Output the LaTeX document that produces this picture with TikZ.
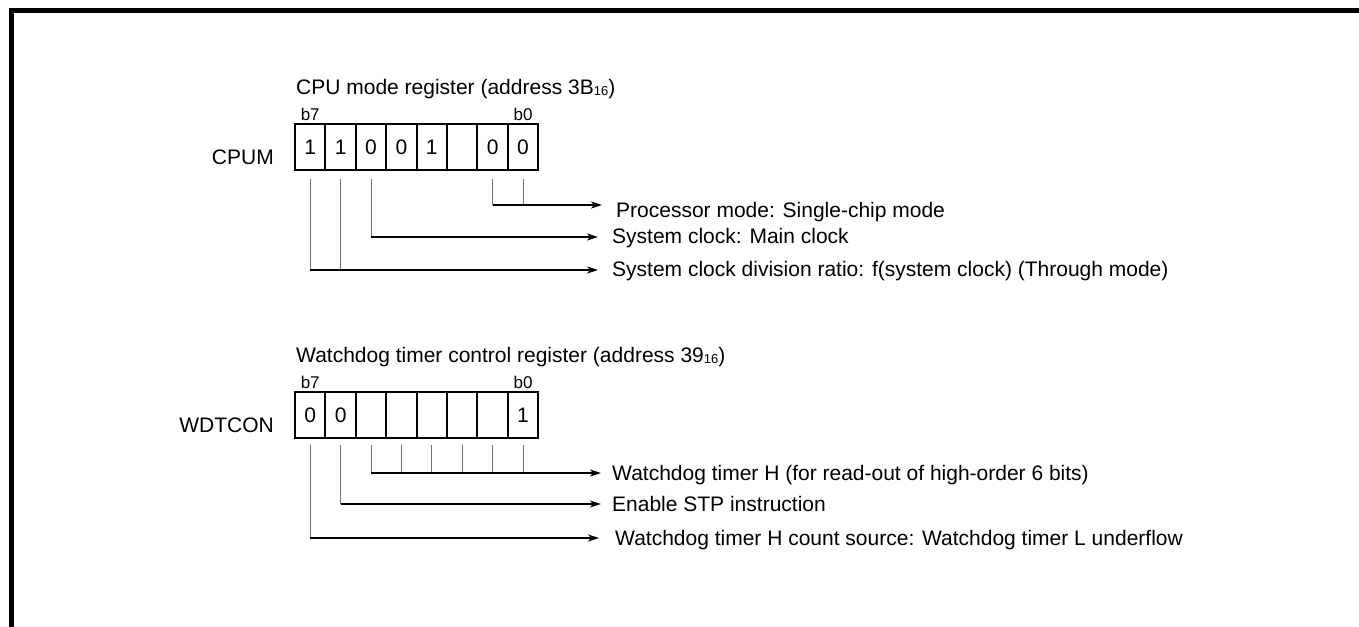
\documentclass[tikz,border=0pt]{standalone}
\usepackage{fontspec}
\setmainfont{Liberation Sans}
\usetikzlibrary{arrows.meta,positioning}
\newcommand\regsub[1]{\raisebox{-1pt}{\fontsize{13}{13}\selectfont #1}}
\tikzset{
  bitcell/.style={draw, line width=2pt, minimum width=30.4pt, minimum height=46pt,
    inner sep=0pt, font=\fontsize{21}{21}\selectfont},
  bitno/.style={anchor=base, inner sep=0pt, font=\fontsize{17}{17}\selectfont},
  regname/.style={anchor=east, inner sep=0pt, font=\fontsize{21}{21}\selectfont},
  regtitle/.style={anchor=west, inner sep=0pt, font=\fontsize{21}{21}\selectfont},
  desc/.style={anchor=west, inner sep=0pt, text height=15pt, text depth=4pt,
    font=\fontsize{21}{21}\selectfont},
  lead/.style={line width=0.9pt, black!55},
  feed/.style={line width=1.1pt, -{Stealth[length=11pt,width=7pt,inset=3pt]}},
}
\begin{document}
\begin{tikzpicture}[x=1pt,y=-1pt]
  \useasboundingbox (0,0) rectangle (1359,626);
  % frame
  \draw[line width=5pt] (1380,10.5) -- (11.5,10.5) -- (11.5,650);

  % CPU mode register
  \node[regtitle] (cputitle) at (296,89) {CPU mode register (address 3B\regsub{16})};
  \foreach \b/\v in {7/1,6/1,5/0,4/0,3/1,2/{},1/0,0/0}
    \node[bitcell] (cpum\b) at ({310.2+30.4*(7-\b)},147) {\v};
  \node[bitno] at ([yshift=3pt]cpum7.north) {b7};
  \node[bitno] at ([yshift=3pt]cpum0.north) {b0};
  \node[regname, left=20pt of cpum7.west, yshift=-10pt] (cpumname) {CPUM};
  \coordinate (cpa) at (602,205);
  \coordinate (cpb) at (598,237);
  \coordinate (cpc) at (598,270);
  \foreach \b/\e in {1/cpa,0/cpa,5/cpb,7/cpc,6/cpc}
    \draw[lead] ([yshift=-8pt]cpum\b.south) -- (cpum\b.south |- \e);
  \draw[feed] (cpum1.south |- cpa) -- (cpa);
  \draw[feed] (cpum5.south |- cpb) -- (cpb);
  \draw[feed] (cpum7.south |- cpc) -- (cpc);
  \node[desc, right=14pt of cpa, yshift=-7pt] (cpdesca) {Processor mode: Single-chip mode};
  \node[desc, right=14pt of cpb, yshift=-1pt] (cpdescb) {System clock: Main clock};
  \node[desc, right=14pt of cpc, yshift=-1pt] (cpdescc) {System clock division ratio: f(system clock) (Through mode)};

  % Watchdog timer control register
  \node[regtitle] (wdttitle) at (296,357) {Watchdog timer control register (address 39\regsub{16})};
  \foreach \b/\v in {7/0,6/0,5/{},4/{},3/{},2/{},1/{},0/1}
    \node[bitcell] (wdt\b) at ({310.2+30.4*(7-\b)},415) {\v};
  \node[bitno] at ([yshift=3pt]wdt7.north) {b7};
  \node[bitno] at ([yshift=3pt]wdt0.north) {b0};
  \node[regname, left=20pt of wdt7.west, yshift=-10pt] (wdtname) {WDTCON};
  \coordinate (wda) at (601,473);
  \coordinate (wdb) at (601,504);
  \coordinate (wdc) at (599,538);
  \foreach \b/\e in {5/wda,4/wda,3/wda,2/wda,1/wda,0/wda,6/wdb,7/wdc}
    \draw[lead] ([yshift=-6pt]wdt\b.south) -- (wdt\b.south |- \e);
  \draw[feed] (wdt5.south |- wda) -- (wda);
  \draw[feed] (wdt6.south |- wdb) -- (wdb);
  \draw[feed] (wdt7.south |- wdc) -- (wdc);
  \node[desc, right=11pt of wda, yshift=-2pt] (wddesca) {Watchdog timer H (for read-out of high-order 6 bits)};
  \node[desc, right=11pt of wdb, yshift=-2pt] (wddescb) {Enable STP instruction};
  \node[desc, right=16pt of wdc, yshift=-2pt] (wddescc) {Watchdog timer H count source: Watchdog timer L underflow};
\end{tikzpicture}
\end{document}
